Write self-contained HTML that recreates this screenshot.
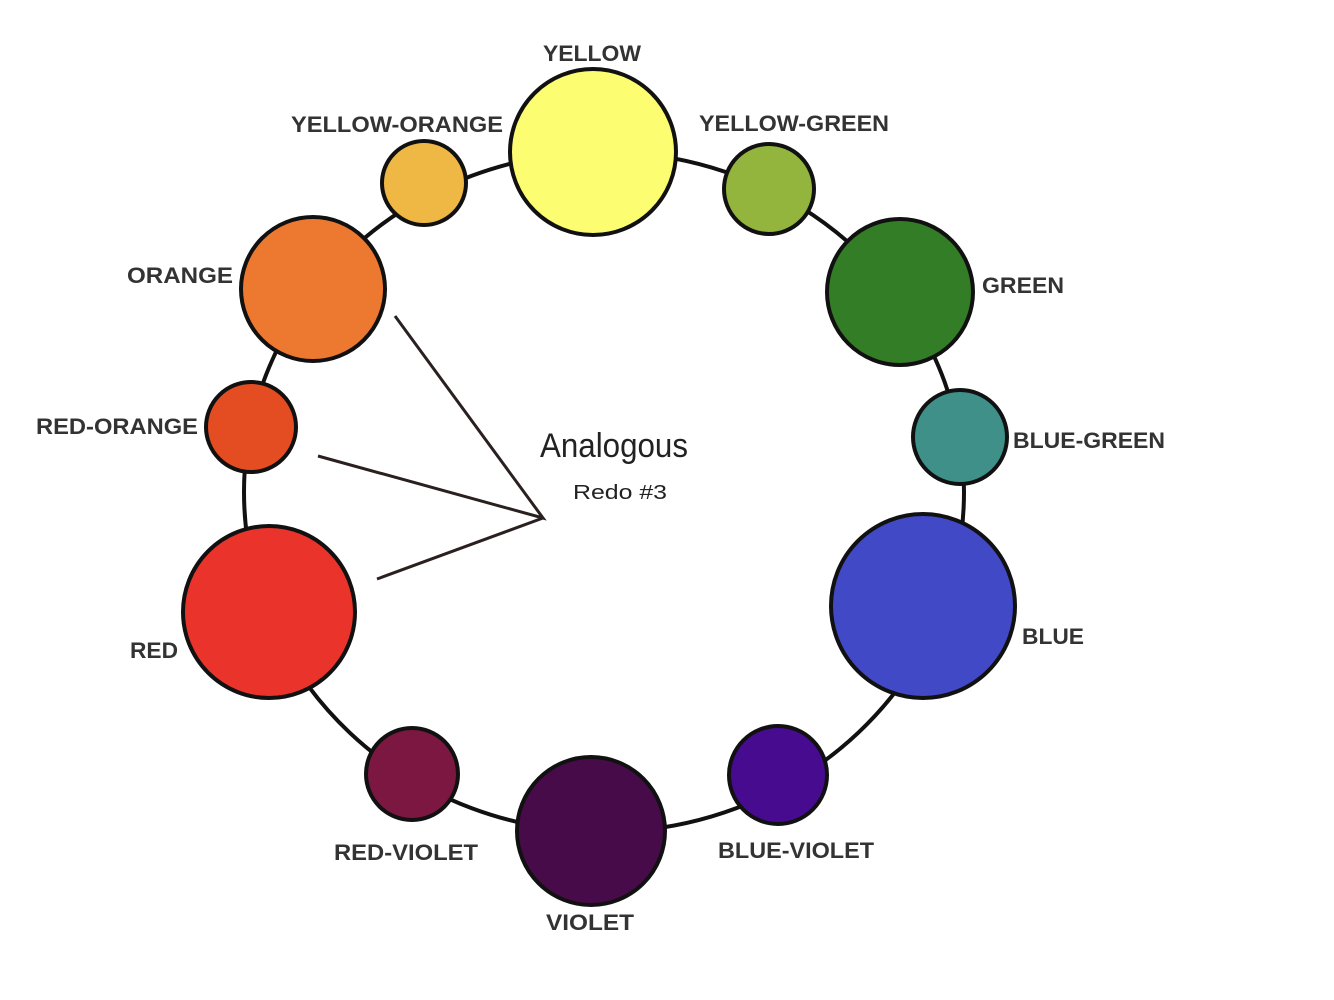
<!DOCTYPE html>
<html><head><meta charset="utf-8"><style>html,body{margin:0;padding:0;background:#fff}svg{display:block}</style></head><body>
<svg width="1334" height="1000" viewBox="0 0 1334 1000" xmlns="http://www.w3.org/2000/svg">
<ellipse cx="604" cy="492" rx="360" ry="340" fill="none" stroke="#111" stroke-width="4"/>
<g stroke="#111" stroke-width="4">
<circle cx="593" cy="152" r="83" fill="#fdfd72"/>
<circle cx="769" cy="189" r="45" fill="#93b53d"/>
<circle cx="900" cy="292" r="73" fill="#327d25"/>
<circle cx="960" cy="437" r="47" fill="#3e9089"/>
<circle cx="923" cy="606" r="92" fill="#4149c7"/>
<circle cx="778" cy="775" r="49" fill="#460b8f"/>
<circle cx="591" cy="831" r="74" fill="#480b49"/>
<circle cx="412" cy="774" r="46" fill="#7b1741"/>
<circle cx="269" cy="612" r="86" fill="#ea342b"/>
<circle cx="251" cy="427" r="45" fill="#e44c22"/>
<circle cx="313" cy="289" r="72" fill="#ed7930"/>
<circle cx="424" cy="183" r="42" fill="#efb845"/>
</g>
<g stroke="#2a2020" stroke-width="3" fill="none">
<polyline points="395,316 543,518 318,456"/>
<line x1="543" y1="518" x2="377" y2="579"/>
</g>
<g font-family="Liberation Sans, sans-serif" font-weight="bold" font-size="22" fill="#333">
<text x="592" y="61" text-anchor="middle" textLength="98" lengthAdjust="spacingAndGlyphs">YELLOW</text>
<text x="397" y="132" text-anchor="middle" textLength="212" lengthAdjust="spacingAndGlyphs">YELLOW-ORANGE</text>
<text x="794" y="131" text-anchor="middle" textLength="190" lengthAdjust="spacingAndGlyphs">YELLOW-GREEN</text>
<text x="982" y="293" textLength="82" lengthAdjust="spacingAndGlyphs">GREEN</text>
<text x="1013" y="448" textLength="152" lengthAdjust="spacingAndGlyphs">BLUE-GREEN</text>
<text x="1022" y="644" textLength="62" lengthAdjust="spacingAndGlyphs">BLUE</text>
<text x="796" y="858" text-anchor="middle" textLength="156" lengthAdjust="spacingAndGlyphs">BLUE-VIOLET</text>
<text x="590" y="930" text-anchor="middle" textLength="88" lengthAdjust="spacingAndGlyphs">VIOLET</text>
<text x="406" y="860" text-anchor="middle" textLength="144" lengthAdjust="spacingAndGlyphs">RED-VIOLET</text>
<text x="178" y="658" text-anchor="end" textLength="48" lengthAdjust="spacingAndGlyphs">RED</text>
<text x="198" y="434" text-anchor="end" textLength="162" lengthAdjust="spacingAndGlyphs">RED-ORANGE</text>
<text x="233" y="283" text-anchor="end" textLength="106" lengthAdjust="spacingAndGlyphs">ORANGE</text>
</g>
<g font-family="Liberation Sans, sans-serif" fill="#222">
<text x="540" y="457" font-size="34" textLength="148" lengthAdjust="spacingAndGlyphs">Analogous</text>
<text x="573" y="499" font-size="20" textLength="94" lengthAdjust="spacingAndGlyphs">Redo #3</text>
</g>
</svg>
</body></html>
